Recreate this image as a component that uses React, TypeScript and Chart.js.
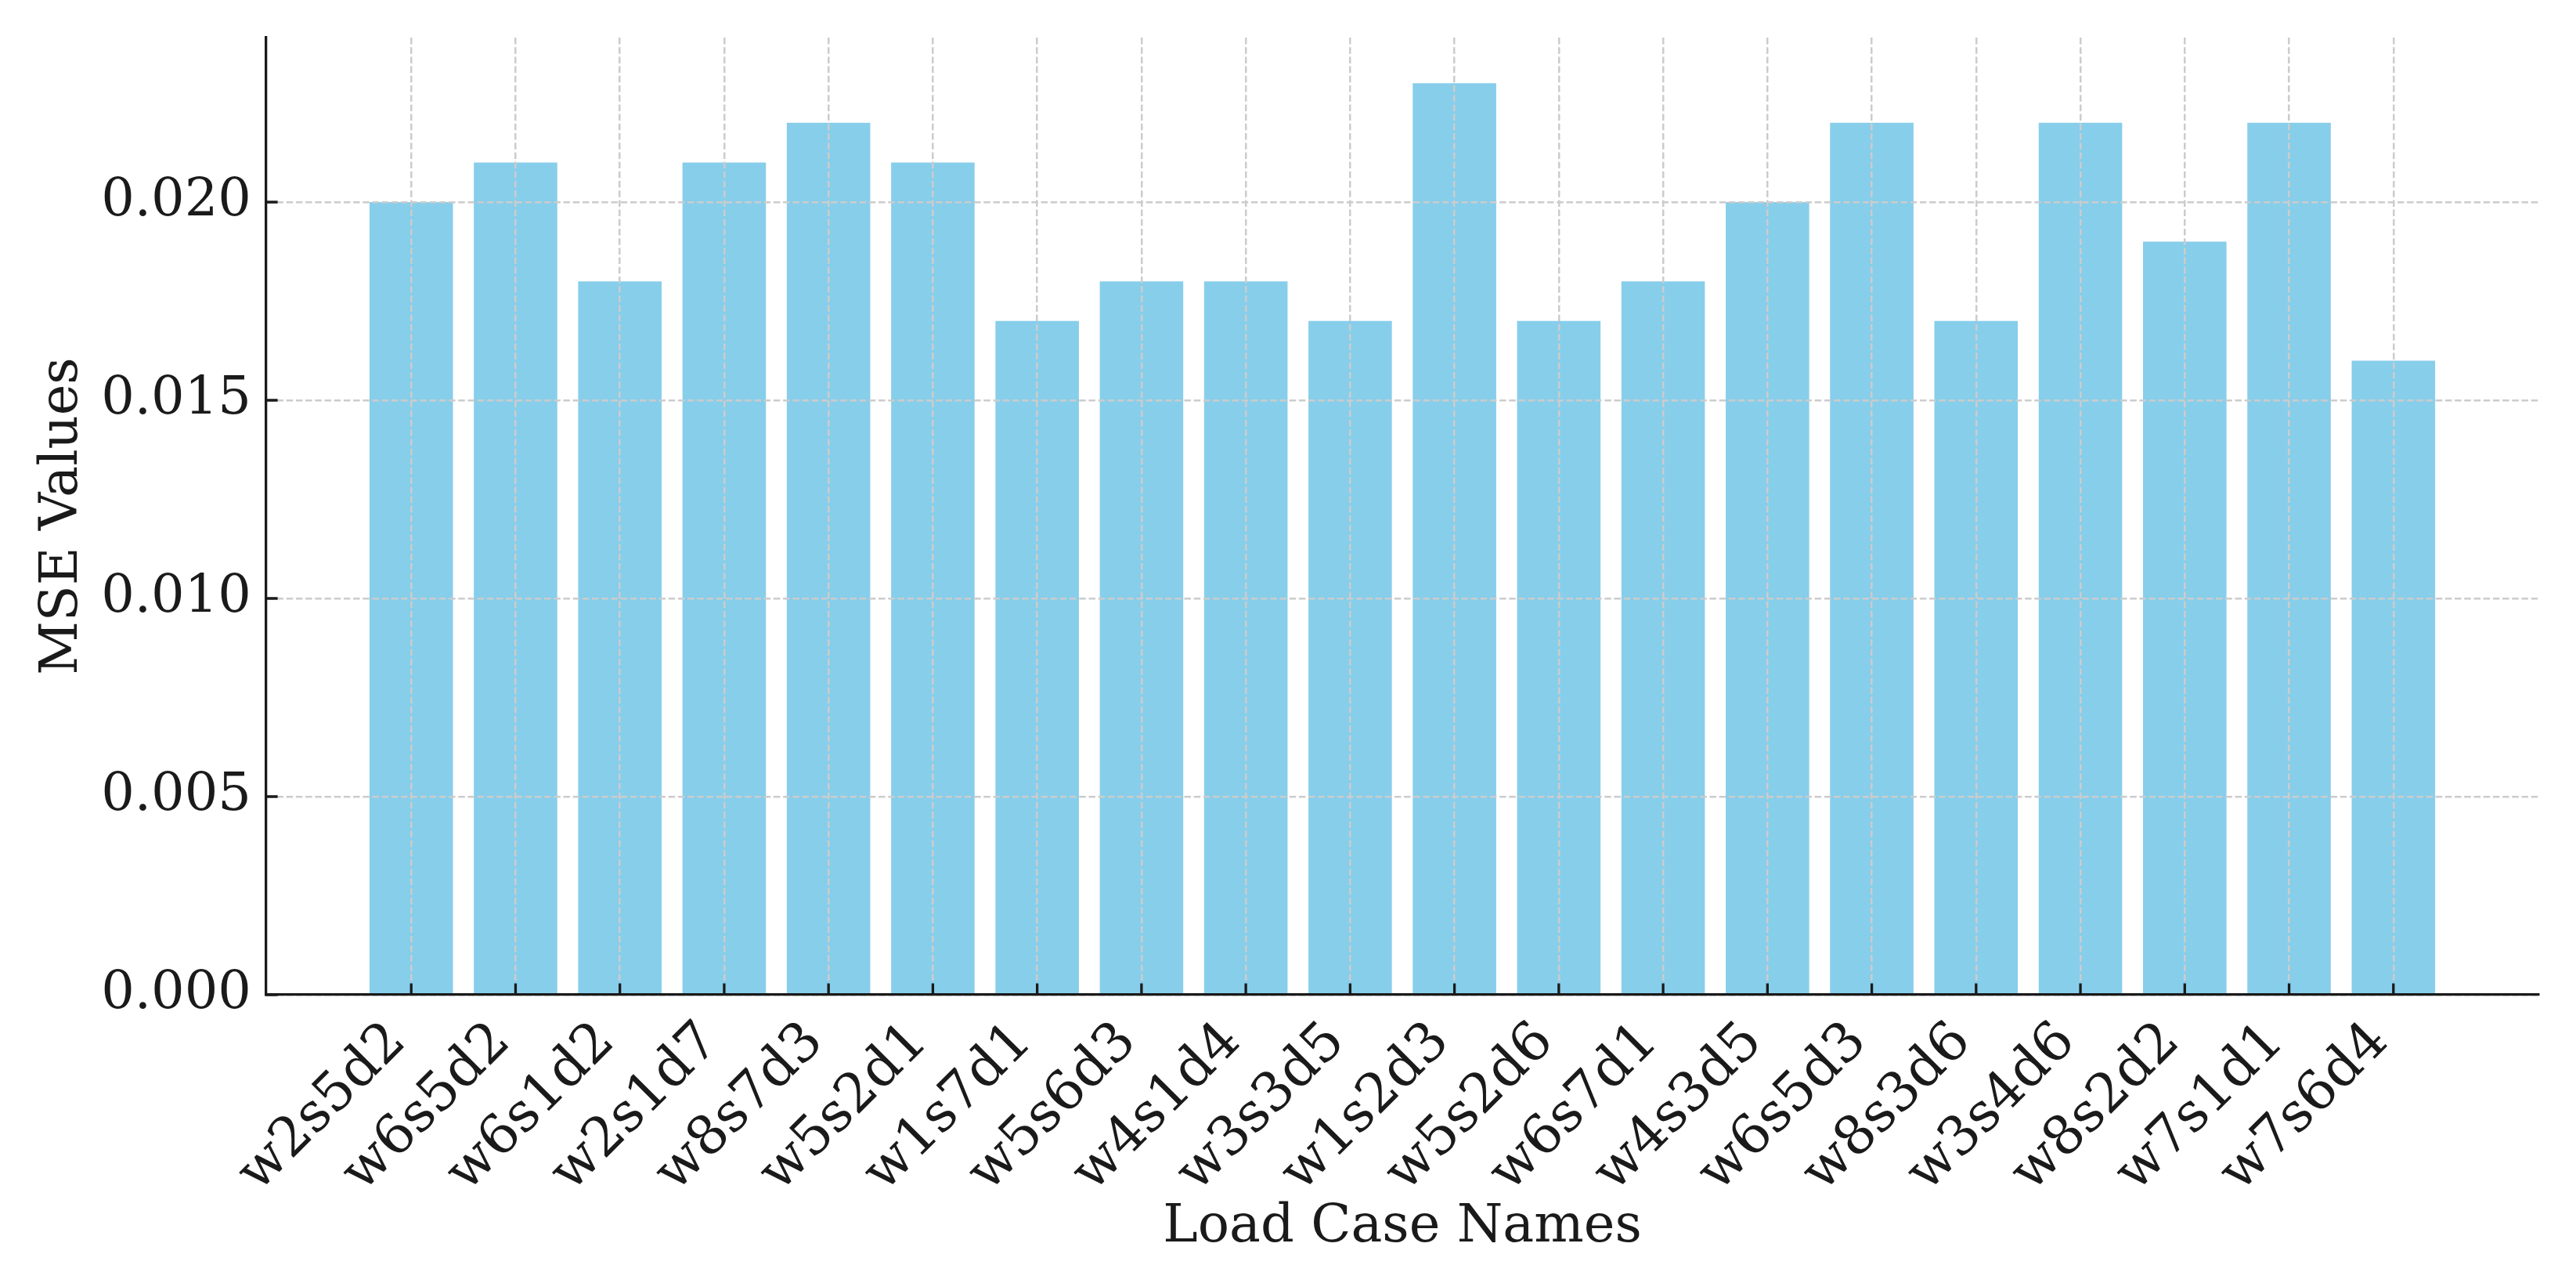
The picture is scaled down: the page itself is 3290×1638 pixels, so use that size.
import React, { useEffect, useRef } from "react";
import { Chart, registerables } from "chart.js";

Chart.register(...registerables);

const categories = [
  "w2s5d2", "w6s5d2", "w6s1d2", "w2s1d7", "w8s7d3", "w5s2d1", "w1s7d1", "w5s6d3", "w4s1d4", "w3s3d5",
  "w1s2d3", "w5s2d6", "w6s7d1", "w4s3d5", "w6s5d3", "w8s3d6", "w3s4d6", "w8s2d2", "w7s1d1", "w7s6d4",
];
const mseValues = [
  0.020, 0.021, 0.018, 0.021, 0.022, 0.021, 0.017, 0.018, 0.018, 0.017,
  0.023, 0.017, 0.018, 0.020, 0.022, 0.017, 0.022, 0.019, 0.022, 0.016,
];
const yTickValues = [0, 0.005, 0.01, 0.015, 0.02];
const xLabel = "Load Case Names";
const yLabel = "MSE Values";

const W = 3290;
const H = 1638;
const FONT = "'DejaVu Serif', serif";
const TEXT = "#1a1a1a";
const GRID = "#cccccc";

const inwardTicks = {
  id: "inwardTicks",
  afterDraw(chart: any) {
    const { ctx, chartArea } = chart;
    const xs = chart.scales.x;
    const ys = chart.scales.y;
    ctx.save();
    ctx.strokeStyle = TEXT;
    ctx.lineWidth = 3.3;
    ctx.setLineDash([]);
    ctx.beginPath();
    xs.ticks.forEach((t: any) => {
      const px = xs.getPixelForValue(t.value);
      ctx.moveTo(px, chartArea.bottom);
      ctx.lineTo(px, chartArea.bottom - 14.6);
    });
    ys.ticks.forEach((t: any) => {
      const py = ys.getPixelForValue(t.value);
      ctx.moveTo(chartArea.left, py);
      ctx.lineTo(chartArea.left + 14.6, py);
    });
    ctx.stroke();
    ctx.restore();
  },
};

export default function App() {
  const ref = useRef<HTMLCanvasElement | null>(null);
  useEffect(() => {
    if (!ref.current) return;
    const nBars = categories.length;
    const span = nBars - 1 + 0.8;
    const xMin = -0.4 - 0.05 * span;
    const xMax = nBars - 1 + 0.4 + 0.05 * span;
    const yMax = Math.max(...mseValues) * 1.05;
    const chart = new Chart(ref.current, {
      type: "bar",
      data: {
        datasets: [
          {
            data: mseValues.map((v, i) => ({ x: i, y: v })),
            backgroundColor: "#87CEEB",
            borderWidth: 0,
            categoryPercentage: 0.8,
            barPercentage: 1.0,
          },
        ],
      },
      options: {
        responsive: false,
        animation: false,
        events: [],
        layout: { padding: { left: 0, top: 48, right: 48, bottom: 0 } },
        plugins: { legend: { display: false }, tooltip: { enabled: false } },
        scales: {
          x: {
            type: "linear",
            min: xMin,
            max: xMax,
            offset: false,
            afterBuildTicks: (scale: any) => {
              scale.ticks = categories.map((_, i) => ({ value: i }));
            },
            afterFit: (scale: any) => {
              scale.height = H - 1270;
              scale.paddingLeft = 0;
              scale.paddingRight = 0;
              scale.paddingTop = 0;
              scale.paddingBottom = 0;
            },
            grid: {
              display: true,
              offset: false,
              color: GRID,
              lineWidth: 2.5,
              drawTicks: false,
              z: 1,
            },
            border: { display: true, color: TEXT, width: 3.3, z: 2, dash: [8.5, 3.7] },
            ticks: {
              autoSkip: false,
              minRotation: 45,
              maxRotation: 45,
              padding: 20,
              labelOffset: -17,
              color: TEXT,
              font: { family: FONT, size: 69 },
              callback: (v: any) => categories[Math.round(Number(v))] ?? "",
            },
            title: {
              display: true,
              text: xLabel,
              color: TEXT,
              font: { family: FONT, size: 67 },
              padding: { top: 0, bottom: 30 },
            },
          },
          y: {
            type: "linear",
            min: 0,
            max: yMax,
            afterBuildTicks: (scale: any) => {
              scale.ticks = yTickValues.map((v) => ({ value: v }));
            },
            afterFit: (scale: any) => {
              scale.width = 340;
              scale.paddingTop = 0;
              scale.paddingBottom = 0;
              scale.paddingLeft = 0;
              scale.paddingRight = 0;
            },
            grid: {
              display: true,
              offset: false,
              color: GRID,
              lineWidth: 2.5,
              drawTicks: false,
              z: 1,
            },
            border: { display: true, color: TEXT, width: 3.3, z: 2, dash: [8.5, 3.7] },
            ticks: {
              padding: 19,
              color: TEXT,
              font: { family: FONT, size: 67 },
              callback: (v: any) => Number(v).toFixed(3),
            },
            title: {
              display: true,
              text: yLabel,
              color: TEXT,
              font: { family: FONT, size: 67 },
              padding: { top: 40, bottom: 0 },
            },
          },
        },
      },
      plugins: [inwardTicks],
    } as any);
    return () => chart.destroy();
  }, []);
  return (
    <div style={{ position: "absolute", left: 0, top: 0, width: W, height: H, background: "#fff" }}>
      <canvas ref={ref} width={W} height={H} style={{ display: "block", width: W, height: H }} />
    </div>
  );
}
